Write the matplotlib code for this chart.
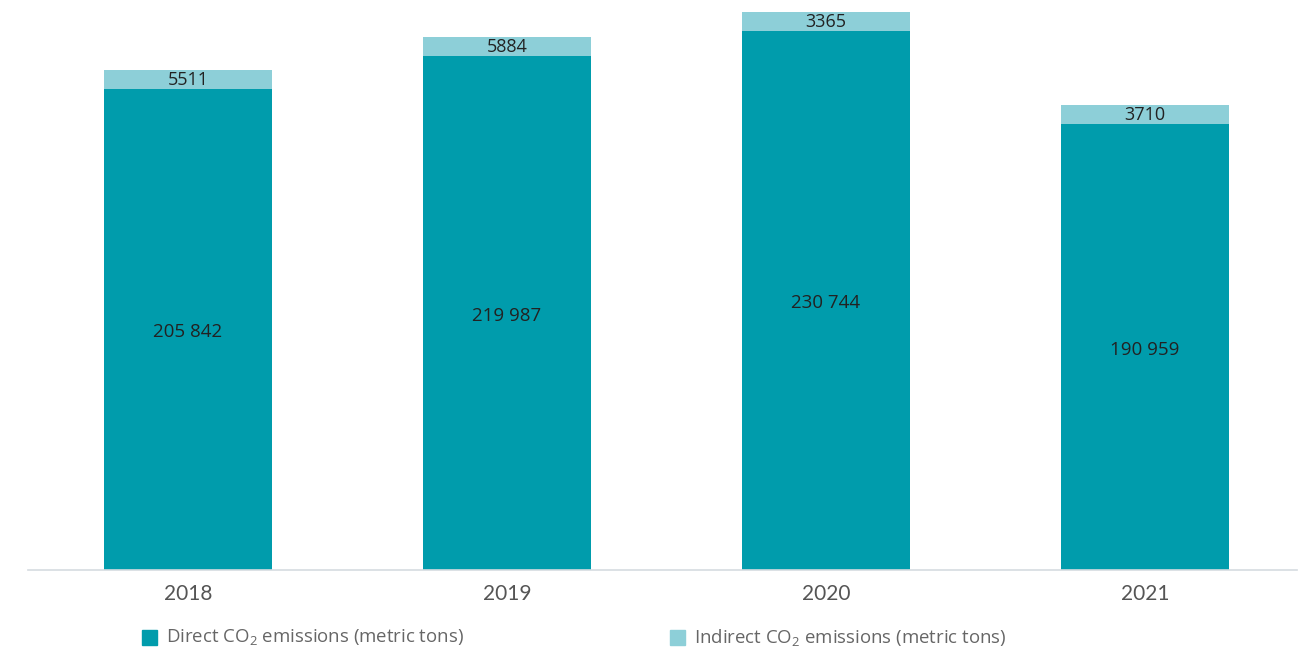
import matplotlib
matplotlib.use("Agg")
import matplotlib.pyplot as plt
import numpy as np
from matplotlib.patches import Rectangle

years = ["2018", "2019", "2020", "2021"]
direct = [205842, 219987, 230744, 190959]
indirect = [5511, 5884, 3365, 3710]
direct_labels = ["205 842", "219 987", "230 744", "190 959"]
indirect_labels = ["5511", "5884", "3365", "3710"]

C_DIRECT = "#009CAC"
C_INDIRECT = "#8DCFD8"
MIN_SEG = 8100  # minimum visible segment size, as in the source chart

plt.rcParams['font.family'] = ['Lato', 'DejaVu Sans']
plt.rcParams['mathtext.fontset'] = 'custom'
plt.rcParams['mathtext.rm'] = 'Open Sans'
plt.rcParams['mathtext.it'] = 'Open Sans'

fig = plt.figure(figsize=(13.16, 6.53), dpi=100)
ax = fig.add_axes([28/1316, 83/653, (1297-28)/1316, 570/653])

x = np.arange(len(years))
w = 168/319
d = np.array(direct, dtype=float)
ind_vis = np.maximum(np.array(indirect, dtype=float), MIN_SEG)

ax.bar(x, d, width=w, color=C_DIRECT, zorder=2)
ax.bar(x, ind_vis, bottom=d, width=w, color=C_INDIRECT, zorder=2)

for i in range(len(years)):
    ax.text(x[i], d[i]/2 - 1200, direct_labels[i], ha='center', va='center',
            fontsize=13.5, color='#222222', zorder=3, family=['Open Sans', 'DejaVu Sans'])
    ax.text(x[i], d[i] + ind_vis[i]/2, indirect_labels[i], ha='center', va='center',
            fontsize=13, color='#222222', zorder=3, family=['Open Sans', 'DejaVu Sans'])

ax.set_xlim(-160/319, 3 + 152/319)
ax.set_ylim(0, 570/0.002335)
ax.set_xticks(x)
ax.set_xticklabels(years, fontsize=15, color='#555555')
ax.tick_params(axis='x', length=0, pad=10)
ax.set_yticks([])
for s in ['top', 'right', 'left']:
    ax.spines[s].set_visible(False)
ax.spines['bottom'].set_color('#D5DBE0')
ax.spines['bottom'].set_linewidth(1.2)

# legend
def legend_item(px, label, color):
    fig.patches.append(Rectangle((px/1316, (653-645)/653), 15/1316, 15/653,
                                 transform=fig.transFigure, color=color))
    fig.text((px+24)/1316, (653-637)/653, label, fontsize=13.4, color='#666666',
             va='center', ha='left', family=['Open Sans', 'DejaVu Sans'])

legend_item(142, "Direct CO$_{2}$ emissions (metric tons)", C_DIRECT)
legend_item(670, "Indirect CO$_{2}$ emissions (metric tons)", C_INDIRECT)

fig.savefig("out.png", dpi=100)
